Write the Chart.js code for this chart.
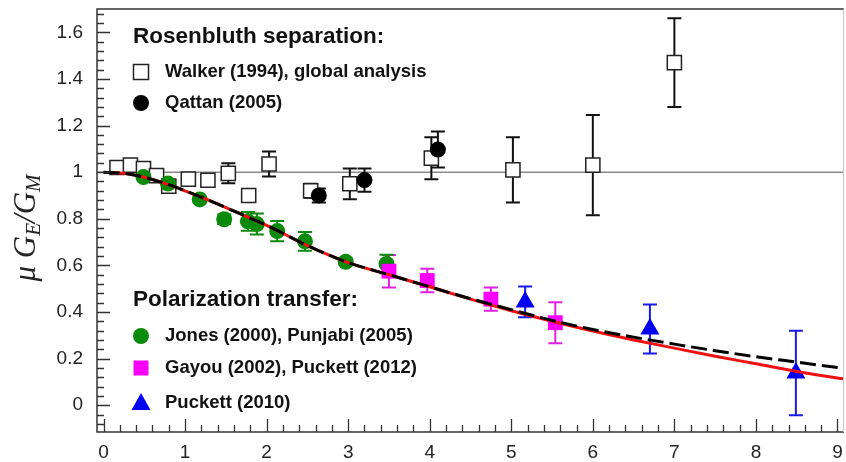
<!DOCTYPE html>
<html><head><meta charset="utf-8">
<script src="https://cdn.jsdelivr.net/npm/chart.js@4.4.0/dist/chart.umd.min.js"></script>
<style>html,body{margin:0;padding:0;background:#fff}canvas{display:block}</style>
</head><body>
<canvas id="c" width="846" height="462"></canvas>
<script>
// ---- data ----
const xTicks = [0,1,2,3,4,5,6,7,8,9];
const yTicks = [0,0.2,0.4,0.6,0.8,1.0,1.2,1.4,1.6];

const walkerQ2    = [0.165,0.33,0.49,0.65,0.80,1.04,1.28,1.53,1.78,2.03,2.54,3.02,4.02,5.02,6.00,7.00];
const walkerRatio = [1.02,1.03,1.015,0.985,0.94,0.97,0.965,0.995,0.90,1.035,0.92,0.95,1.06,1.01,1.03,1.47];
const walkerErr   = [0.02,0.02,0.02,0.02,0.02,0.02,0.02,0.043,0.02,0.054,0.03,0.066,0.09,0.14,0.215,0.19];

const qattanQ2    = [2.64,3.20,4.10];
const qattanRatio = [0.90,0.966,1.097];
const qattanErr   = [0.03,0.05,0.077];

const jonesQ2     = [0.49,0.79,1.18,1.48,1.77,1.88,2.13,2.47,2.97,3.47];
const jonesRatio  = [0.979,0.951,0.883,0.798,0.789,0.777,0.747,0.703,0.615,0.606];
const jonesErr    = [0.01,0.01,0.01,0.02,0.04,0.045,0.043,0.04,0.015,0.04];

const gayouQ2     = [3.50,3.97,4.75,5.54];
const gayouRatio  = [0.575,0.535,0.455,0.354];
const gayouErr    = [0.07,0.05,0.05,0.088];

const puckettQ2    = [5.17,6.70,8.49];
const puckettRatio = [0.443,0.327,0.138];
const puckettErr   = [0.066,0.105,0.181];

const curveQ2  = [0,0.25,0.5,0.75,1,1.25,1.5,1.75,2,2.5,3,3.5,4,4.5,5,5.5,6,6.5,7,7.5,8,8.5,9,9.2];
const redFit   = [1.0,0.995,0.978,0.952,0.92,0.885,0.848,0.81,0.772,0.685,0.612,0.56,0.508,0.455,0.405,0.36,0.318,0.28,0.245,0.21,0.178,0.145,0.117,0.108];
const blackFit = [1.0,0.995,0.978,0.952,0.92,0.885,0.848,0.81,0.772,0.685,0.612,0.56,0.508,0.457,0.41,0.364,0.325,0.292,0.262,0.234,0.208,0.185,0.162,0.154];

const pts = (xs, ys) => xs.map((x,i) => ({x, y: ys[i]}));

const FONT = "'Liberation Sans', Arial, Helvetica, sans-serif";

// error bars + reference line (under markers)
const errorBarPlugin = {
  id: 'errbars',
  beforeDatasetsDraw(chart) {
    const {ctx, chartArea: a, scales: {x, y}} = chart;
    ctx.save();
    ctx.strokeStyle = '#8a8a8a'; ctx.lineWidth = 1.5;
    const y1 = y.getPixelForValue(1);
    ctx.beginPath(); ctx.moveTo(a.left, y1); ctx.lineTo(a.right, y1); ctx.stroke();
    chart.data.datasets.forEach((ds) => {
      if (!ds.errBars) return;
      ctx.strokeStyle = ds.errColor; ctx.lineWidth = 2;
      ds.data.forEach((p, i) => {
        const e = ds.errBars[i];
        const px = x.getPixelForValue(p.x);
        const pt = y.getPixelForValue(p.y + e), pb = y.getPixelForValue(p.y - e);
        ctx.beginPath();
        ctx.moveTo(px, pt); ctx.lineTo(px, pb);
        ctx.moveTo(px - 7, pt); ctx.lineTo(px + 7, pt);
        ctx.moveTo(px - 7, pb); ctx.lineTo(px + 7, pb);
        ctx.stroke();
      });
    });
    ctx.restore();
  }
};

// frame, inward ticks, axis title, legend
const decorPlugin = {
  id: 'decor',
  afterDraw(chart) {
    const {ctx, chartArea: a, scales: {x, y}} = chart;
    ctx.save();
    ctx.strokeStyle = '#333'; ctx.lineWidth = 1.5;
    ctx.beginPath();
    ctx.moveTo(a.right, a.top); ctx.lineTo(a.left, a.top); ctx.lineTo(a.left, a.bottom); ctx.lineTo(a.right, a.bottom);
    ctx.stroke();
    ctx.strokeStyle = '#c8c8c8'; ctx.lineWidth = 1;
    ctx.beginPath(); ctx.moveTo(a.right - 0.5, a.top); ctx.lineTo(a.right - 0.5, a.bottom); ctx.stroke();
    ctx.strokeStyle = '#333'; ctx.lineWidth = 1.3;
    ctx.beginPath();
    for (let k = Math.ceil(y.min / 0.04); k * 0.04 <= y.max + 1e-9; k++) {
      const v = k * 0.04;
      const major = Math.abs(Math.round(v / 0.2) * 0.2 - v) < 1e-6;
      const py = Math.round(y.getPixelForValue(v)) + 0.5;
      ctx.moveTo(a.left, py); ctx.lineTo(a.left + (major ? 13 : 7), py);
    }
    for (let k = Math.ceil(x.min / 0.2); k * 0.2 <= x.max + 1e-9; k++) {
      const v = k * 0.2;
      const major = Math.abs(Math.round(v) - v) < 1e-6;
      const px = Math.round(x.getPixelForValue(v)) + 0.5;
      ctx.moveTo(px, a.bottom); ctx.lineTo(px, a.bottom - (major ? 13 : 7));
    }
    ctx.stroke();

    // y-axis title: mu G_E / G_M
    ctx.save();
    ctx.translate(27, 228);
    ctx.rotate(-Math.PI / 2);
    ctx.fillStyle = '#222';
    ctx.textBaseline = 'middle';
    ctx.textAlign = 'left';
    const big = "italic 31px 'Liberation Serif', 'DejaVu Serif', serif";
    const small = "italic 21px 'Liberation Serif', 'DejaVu Serif', serif";
    const segs = [["μ ", big, 0], ["G", big, 0], ["E", small, 7], ["/G", big, 0], ["M", small, 7]];
    let tw = 0;
    segs.forEach(s => { ctx.font = s[1]; tw += ctx.measureText(s[0]).width; });
    let cx = -tw / 2;
    segs.forEach(s => { ctx.font = s[1]; ctx.fillText(s[0], cx, s[2]); cx += ctx.measureText(s[0]).width; });
    ctx.restore();

    // legend
    ctx.textBaseline = 'middle'; ctx.textAlign = 'left'; ctx.fillStyle = '#111';
    ctx.font = "bold 22.5px " + FONT;
    ctx.fillText('Rosenbluth separation:', 133, 37);
    ctx.fillText('Polarization transfer:', 133, 300);
    ctx.font = "bold 18.5px " + FONT;
    const items = [
      ['Walker (1994), global analysis', 72, 'osq'],
      ['Qattan (2005)', 103, 'bcirc'],
      ['Jones (2000), Punjabi (2005)', 336, 'gcirc'],
      ['Gayou (2002), Puckett (2012)', 368, 'msq'],
      ['Puckett (2010)', 403, 'btri']
    ];
    items.forEach(([t, ty, m]) => {
      ctx.fillStyle = '#111';
      ctx.fillText(t, 165, ty);
      const mx = 141;
      ctx.beginPath();
      if (m === 'osq') {
        ctx.fillStyle = '#fff'; ctx.strokeStyle = '#222'; ctx.lineWidth = 1.5;
        ctx.rect(mx - 7.5, ty - 7.5, 15, 15); ctx.fill(); ctx.stroke();
      } else if (m === 'bcirc') {
        ctx.fillStyle = '#000'; ctx.arc(mx, ty, 8, 0, Math.PI * 2); ctx.fill();
      } else if (m === 'gcirc') {
        ctx.fillStyle = '#0a8a0a'; ctx.arc(mx, ty, 8, 0, Math.PI * 2); ctx.fill();
      } else if (m === 'msq') {
        ctx.fillStyle = '#ff00ff'; ctx.rect(mx - 7.5, ty - 7.5, 15, 15); ctx.fill();
      } else if (m === 'btri') {
        ctx.fillStyle = '#0000f0';
        ctx.moveTo(mx, ty - 10); ctx.lineTo(mx + 9.5, ty + 7); ctx.lineTo(mx - 9.5, ty + 7); ctx.closePath(); ctx.fill();
      }
    });
    ctx.restore();
  }
};

new Chart(document.getElementById('c'), {
  type: 'scatter',
  data: {
    datasets: [
      { label: 'Kelly fit', type: 'line', data: pts(curveQ2, blackFit), borderColor: '#000', borderWidth: 3,
        borderDash: [16, 6], pointRadius: 0, cubicInterpolationMode: 'monotone', fill: false, order: 0 },
      { label: 'Fit', type: 'line', data: pts(curveQ2, redFit), borderColor: '#ee1111', borderWidth: 3,
        pointRadius: 0, cubicInterpolationMode: 'monotone', fill: false, order: 1 },
      { label: 'Qattan (2005)', data: pts(qattanQ2, qattanRatio), errBars: qattanErr, errColor: '#111',
        pointStyle: 'circle', pointRadius: 8, backgroundColor: '#000', borderColor: '#000', borderWidth: 0, order: 2 },
      { label: 'Walker (1994), global analysis', data: pts(walkerQ2, walkerRatio), errBars: walkerErr, errColor: '#111',
        pointStyle: 'rect', pointRadius: 10, backgroundColor: '#fff', borderColor: '#222', borderWidth: 1.5, order: 3 },
      { label: 'Puckett (2010)', data: pts(puckettQ2, puckettRatio), errBars: puckettErr, errColor: '#1a1ae8',
        pointStyle: 'triangle', pointRadius: 11, backgroundColor: '#0000f0', borderColor: '#0000f0', borderWidth: 0, order: 2 },
      { label: 'Gayou (2002), Puckett (2012)', data: pts(gayouQ2, gayouRatio), errBars: gayouErr, errColor: '#e020e0',
        pointStyle: 'rect', pointRadius: 10.5, backgroundColor: '#ff00ff', borderColor: '#ff00ff', borderWidth: 0, order: 2 },
      { label: 'Jones (2000), Punjabi (2005)', data: pts(jonesQ2, jonesRatio), errBars: jonesErr, errColor: '#0a8a0a',
        pointStyle: 'circle', pointRadius: 8, backgroundColor: '#0a8a0a', borderColor: '#0a8a0a', borderWidth: 0, order: 2 }
    ]
  },
  options: {
    responsive: false,
    animation: false,
    layout: { autoPadding: false, padding: { top: 9, right: 2, left: 0, bottom: 0 } },
    plugins: { legend: { display: false }, tooltip: { enabled: false } },
    scales: {
      x: {
        type: 'linear', min: -0.08, max: 9.08,
        afterFit: s => { s.height = 30; s.paddingLeft = 0; s.paddingRight = 0; },
        afterBuildTicks: s => { s.ticks = xTicks.map(v => ({ value: v })); },
        grid: { display: false, drawTicks: false }, border: { display: false },
        ticks: { font: { family: FONT, size: 19 }, color: '#222', padding: 9, maxRotation: 0,
                 callback: v => String(v) }
      },
      y: {
        type: 'linear', min: -0.115, max: 1.70,
        afterFit: s => { s.width = 97; s.paddingTop = 0; s.paddingBottom = 0; },
        afterBuildTicks: s => { s.ticks = yTicks.map(v => ({ value: v })); },
        grid: { display: false, drawTicks: false }, border: { display: false },
        ticks: { font: { family: FONT, size: 19 }, color: '#222', padding: 14,
                 callback: v => (Math.abs(v) < 1e-9 ? '0' : Math.abs(v - 1) < 1e-9 ? '1' : v.toFixed(1)) }
      }
    }
  },
  plugins: [errorBarPlugin, decorPlugin]
});
</script>
</body></html>
